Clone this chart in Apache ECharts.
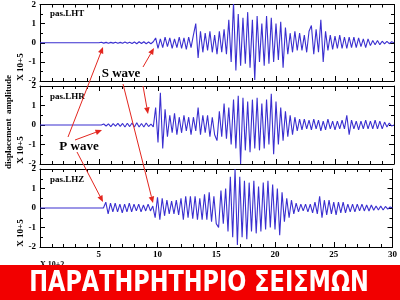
<!DOCTYPE html>
<html><head><meta charset="utf-8">
<script src="https://cdn.jsdelivr.net/npm/echarts@6/dist/echarts.min.js"></script>
<style>html,body{margin:0;padding:0;background:#fff}#c{width:400px;height:300px}</style>
</head><body><div id="c"></div>
<script>
// time axis: samples start at T_START with step T_STEP (s x 10^2); before T_START the trace is flat
const T_START = 5, T_STEP = 0.2;
const xTicks = [0, 5, 10, 15, 20, 25, 30];
const yTicks = [-2, -1, 0, 1, 2];
const stationNames = ['pas.LHT', 'pas.LHR', 'pas.LHZ'];

const lhtValues = [
 0, 0.03, -0.02, 0.02, -0.03,
 0.02, -0.02, 0.03, -0.03, 0.02,
 -0.03, 0.04, -0.03, 0.03, -0.04,
 0.04, -0.05, 0.05, -0.04, 0.05,
 -0.05, 0.04, -0.05, 0.05, 0.25,
 -0.3, 0.2, -0.25, 0.3, -0.2,
 0.25, -0.3, 0.2, -0.25, 0.3,
 -0.3, 0.25, -0.35, 0.3, -0.25,
 0.4, 1.0, -0.8, 0.6, -0.5,
 0.5, -0.4, 0.6, -0.5, 0.4,
 -0.6, 0.6, -0.5, 0.7, -0.6,
 1.2, -1.0, 2.1, -1.45, 1.5,
 -1.2, 1.3, -1.1, 1.6, -1.3,
 1.2, -1.95, 1.4, -1.0, 1.0,
 -1.2, 1.4, -1.1, 1.3, -1.0,
 1.0, -0.9, 1.1, -1.3, 0.8,
 -0.6, 0.5, -0.5, 0.6, -0.4,
 0.5, -0.4, 0.4, -0.5, 0.6,
 0.9, -0.6, 0.7, -0.5, 1.2,
 -1.0, 0.6, -0.4, 0.4, -0.35,
 0.35, -0.3, 0.4, -0.3, 0.3,
 -0.3, 0.3, -0.25, 0.3, -0.25,
 0.25, -0.2, 0.2, -0.25, 0.2,
 -0.15, 0.12, -0.1, 0.12, -0.1,
 0.08, -0.06, 0.07, -0.05, 0.05,
 0
];
const lhrValues = [
 0, 0, 0.05, -0.05, 0.06,
 -0.08, 0.07, -0.06, 0.08, -0.07,
 0.08, -0.1, 0.09, -0.08, 0.1,
 -0.1, 0.12, -0.1, 0.08, -0.1,
 0.1, -0.08, 0.05, -0.1, 0.9,
 -0.9, 1.65, -1.2, 0.8, -0.6,
 0.5, -0.4, 0.6, -0.5, 0.4,
 -0.4, 0.5, -0.3, 0.4, -0.5,
 0.4, -0.3, 0.9, -0.5, 0.5,
 -0.4, 0.5, -0.6, 0.4, -0.5,
 -0.8, 0.7, -0.6, 1.1, -0.7,
 0.9, -1.0, 1.3, -1.2, 1.5,
 -2.0, 1.4, -1.3, 1.2, -1.4,
 1.3, -1.2, 1.4, -1.3, 1.1,
 -1.2, 1.3, -1.0, 1.6, -1.5,
 1.2, -1.0, 0.9, -0.8, 0.7,
 -0.6, 0.5, -0.5, 0.4, -0.3,
 0.3, -0.25, 0.3, -0.2, 0.25,
 -0.25, 0.3, -0.2, 0.25, -0.3,
 0.2, -0.25, 0.3, -0.2, 0.2,
 -0.25, 0.2, -0.2, 0.25, -0.2,
 0.5, -0.5, 0.25, -0.2, 0.2,
 -0.25, 0.2, -0.2, 0.25, -0.2,
 0.2, -0.2, 0.25, -0.2, 0.2,
 -0.2, 0.15, -0.1, 0.1, -0.05,
 0
];
const lhzValues = [
 0, 0, 0, 0.3, -0.3,
 0.25, -0.2, 0.25, -0.2, 0.2,
 -0.25, 0.2, -0.2, 0.25, -0.2,
 0.2, -0.15, 0.2, -0.2, 0.15,
 -0.15, 0.2, -0.15, 0.1, -0.5,
 0.55, -0.6, 0.5, -0.4, 0.4,
 -0.3, 0.35, -0.3, 0.4, -0.35,
 0.5, -0.6, 0.6, -0.5, 0.6,
 -0.55, 0.6, -0.6, 0.5, -0.6,
 0.7, -0.6, 0.8, -0.7, 0.6,
 -0.8, -1.0, 0.9, -0.8, 1.0,
 -1.2, 1.6, -1.5, 2.0, -1.9,
 1.6, -1.5, 1.4, -1.6, 1.3,
 -1.2, 1.4, -1.3, 1.1, -1.2,
 1.3, -1.1, 1.4, -1.0, 1.2,
 -1.1, 1.0, -1.4, 0.8, -0.7,
 0.5, -0.5, 0.4, -0.3, 0.25,
 -0.2, 0.2, -0.15, 0.2, -0.2,
 0.2, -0.25, 0.3, -0.3, 0.6,
 -0.5, 0.4, -0.35, 0.4, -0.3,
 0.3, -0.35, 0.3, -0.25, 0.3,
 -0.25, 0.2, -0.2, 0.2, -0.2,
 0.2, -0.15, 0.2, -0.15, 0.15,
 -0.15, 0.15, -0.12, 0.1, -0.1,
 0.1, -0.1, 0.08, -0.06, 0.05,
 0
];
const traces = [lhtValues, lhrValues, lhzValues];

const SERIF = '"Liberation Serif","DejaVu Serif",serif';
const gridTops = [3, 86, 169];
const GRID_H = 78;

function toSeries(arr) {
  const d = [[0, 0]];
  arr.forEach((v, i) => d.push([+(T_START + i * T_STEP).toFixed(2), v]));
  return d;
}

const grids = [], xAxes = [], yAxes = [], series = [];
gridTops.forEach((top, i) => {
  grids.push({ left: 40, right: 6, top: top, height: GRID_H });
  const common = {
    type: 'value', gridIndex: i, min: xTicks[0], max: xTicks[xTicks.length - 1], interval: 5,
    axisLine: { show: true, onZero: false, lineStyle: { color: '#000', width: 1 } },
    axisTick: { show: true, inside: true, length: 5, lineStyle: { color: '#000' } },
    minorTick: { show: true, splitNumber: 5, length: 3, lineStyle: { color: '#000' } },
    splitLine: { show: false }
  };
  xAxes.push(Object.assign({}, common, {
    position: 'bottom',
    axisLabel: { show: i === 2, margin: 3, color: '#000', fontFamily: SERIF, fontWeight: 'bold', fontSize: 9,
      formatter: v => (v === 0 ? '' : String(v)) }
  }));
  xAxes.push(Object.assign({}, common, { position: 'top', axisLabel: { show: false } }));
  const ycommon = {
    type: 'value', gridIndex: i, min: yTicks[0], max: yTicks[yTicks.length - 1], interval: 1,
    axisLine: { show: true, onZero: false, lineStyle: { color: '#000', width: 1 } },
    axisTick: { show: true, inside: true, length: 5, lineStyle: { color: '#000' } },
    minorTick: { show: true, splitNumber: 2, length: 3, lineStyle: { color: '#000' } },
    splitLine: { show: false }
  };
  yAxes.push(Object.assign({}, ycommon, {
    position: 'left',
    axisLabel: { margin: 4, color: '#000', fontFamily: SERIF, fontWeight: 'bold', fontSize: 9 }
  }));
  yAxes.push(Object.assign({}, ycommon, { position: 'right', axisLabel: { show: false } }));
  series.push({
    type: 'line', xAxisIndex: i * 2, yAxisIndex: i * 2, data: toSeries(traces[i]),
    showSymbol: false, symbol: 'none', animation: false, clip: true,
    lineStyle: { color: '#3a2fd0', width: 1.1 }
  });
});

const RED = '#e3261f';
function arrow(x1, y1, x2, y2) {
  const a = Math.atan2(y2 - y1, x2 - x1), L = 6.5, W = 2.8;
  const bx = x2 - L * Math.cos(a), by = y2 - L * Math.sin(a);
  const px = -Math.sin(a) * W, py = Math.cos(a) * W;
  return [
    { type: 'line', shape: { x1, y1, x2: bx, y2: by }, style: { stroke: RED, lineWidth: 1 }, z: 50 },
    { type: 'polygon', shape: { points: [[x2, y2], [bx + px, by + py], [bx - px, by - py]] }, style: { fill: RED }, z: 50 }
  ];
}

const graphics = [];
stationNames.forEach((n, i) => {
  graphics.push({ type: 'text', left: 50, top: gridTops[i] + 6,
    style: { text: n, font: 'bold 9px ' + SERIF, fill: '#000' }, z: 40 });
  graphics.push({ type: 'text', x: 21, y: gridTops[i] + GRID_H - 14, rotation: Math.PI / 2,
    style: { text: 'X 10+5', font: 'bold 9px ' + SERIF, fill: '#000', align: 'center', verticalAlign: 'middle' }, z: 40 });
});
graphics.push({ type: 'text', x: 9, y: 122, rotation: Math.PI / 2,
  style: { text: 'displacement  amplitude', font: 'bold 9px ' + SERIF, fill: '#000', align: 'center', verticalAlign: 'middle' }, z: 40 });
graphics.push({ type: 'text', x: 40, y: 261,
  style: { text: 'X 10+2', font: 'bold 8px ' + SERIF, fill: '#000' }, z: 40 });
graphics.push({ type: 'text', x: 121, y: 74,
  style: { text: 'S wave', font: 'bold 13px ' + SERIF, fill: '#000', align: 'center', verticalAlign: 'middle' }, z: 60 });
graphics.push({ type: 'text', x: 79, y: 147,
  style: { text: 'P wave', font: 'bold 13px ' + SERIF, fill: '#000', align: 'center', verticalAlign: 'middle' }, z: 60 });
[[143, 67, 154, 48], [143, 86, 148, 114], [123, 84, 153, 203],
 [68, 137, 103, 47], [75, 140, 102, 130], [77, 152, 103, 202]].forEach(a => graphics.push(...arrow(...a)));
graphics.push({ type: 'rect', shape: { x: 0, y: 265, width: 400, height: 35 }, style: { fill: '#f20000' }, z: 100 });
graphics.push({ type: 'text', x: 199, y: 283, scaleX: 0.86,
  style: { text: 'ΠΑΡΑΤΗΡΗΤΗΡΙΟ ΣΕΙΣΜΩΝ', font: 'bold 29px "DejaVu Sans Condensed","DejaVu Sans",sans-serif',
    fill: '#fff', align: 'center', verticalAlign: 'middle' }, z: 101 });

const chart = echarts.init(document.getElementById('c'), null, { renderer: 'canvas' });
chart.setOption({
  animation: false,
  backgroundColor: '#fff',
  grid: grids, xAxis: xAxes, yAxis: yAxes, series: series,
  graphic: graphics
});
</script></body></html>
